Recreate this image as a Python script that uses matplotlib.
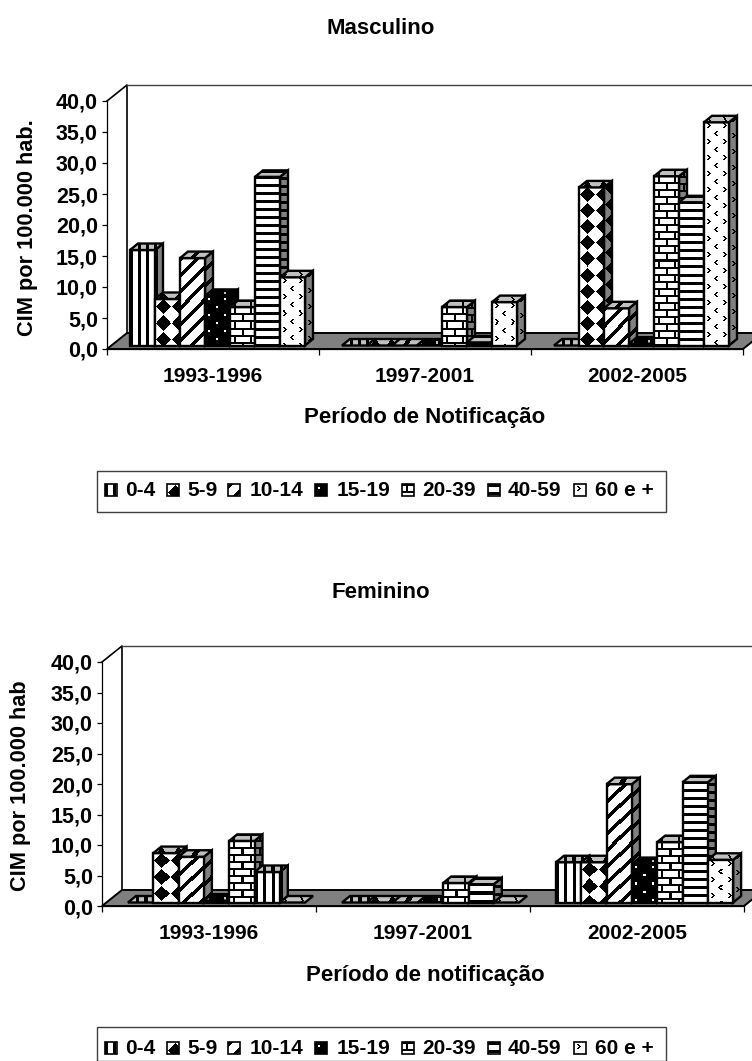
import numpy as np
import matplotlib
matplotlib.use('Agg')
import matplotlib.pyplot as plt
from matplotlib.patches import Polygon, Rectangle

plt.rcParams['font.family'] = ['Liberation Sans', 'DejaVu Sans']
plt.rcParams['font.weight'] = 'bold'

W, H = 752, 1061

# ── Data ───────────────────────────────────────────────────────────────────────
periods  = ['1993-1996', '1997-2001', '2002-2005']
ages     = ['0-4', '5-9', '10-14', '15-19', '20-39', '40-59', '60 e +']
y_ticks  = [0, 5, 10, 15, 20, 25, 30, 35, 40]
y_labels = ['0,0', '5,0', '10,0', '15,0', '20,0', '25,0', '30,0', '35,0', '40,0']

# one row per period, one column per age group
masc = [[15.4, 7.5, 14.1, 8.0, 6.2, 27.2, 11.0],
        [0.0, 0.0, 0.0, 0.0, 6.2, 0.5, 7.0],
        [0.0, 25.5, 6.0, 0.3, 27.3, 23.1, 36.0]]
fem  = [[0.0, 8.1, 7.5, 0.3, 10.1, 5.0, 0.0],
        [0.0, 0.0, 0.0, 0.0, 3.2, 3.0, 0.0],
        [6.6, 6.6, 19.4, 6.3, 9.9, 19.7, 7.0]]


# ── Fill patterns (1 = white, 0 = black) ───────────────────────────────────────
def make_tile(name):
    yy, xx = np.mgrid[0:16, 0:16]
    if name == 'vert':
        return (xx % 8 >= 3).astype(float)
    if name == 'horiz':
        return (yy % 8 >= 3).astype(float)
    if name == 'diag':
        return ((xx + yy) % 16 >= 5).astype(float)
    if name == 'diamond':
        return (np.abs(xx - 8) + np.abs(yy - 8) > 7).astype(float)
    if name == 'dots':
        t = np.zeros((16, 16))
        t[3:5, 3:5] = 1
        t[11:13, 11:13] = 1
        return t
    if name == 'brick':
        t = np.ones((14, 16))
        t[0:2, :] = 0
        t[7:9, :] = 0
        t[0:7, 4:6] = 0
        t[7:14, 12:14] = 0
        return t
    if name == 'confetti':
        t = np.ones((16, 16))
        for k in range(3):
            t[2 + k, 3 + k:5 + k] = 0
            t[6 - k, 3 + k:5 + k] = 0
            t[10 + k, 12 - k:14 - k] = 0
            t[14 - k, 12 - k:14 - k] = 0
        return t


patterns = ['vert', 'diamond', 'diag', 'dots', 'brick', 'horiz', 'confetti']


def tile_image(name, w, h, white=1.0):
    t = make_tile(name)
    w, h = max(int(round(w)), 1), max(int(round(h)), 1)
    img = np.tile(t, (h // t.shape[0] + 1, w // t.shape[1] + 1))[:h, :w]
    return img * white


# ── Drawing helpers ────────────────────────────────────────────────────────────
def draw_face(ax, pts, name, white, sx, sy):
    pts = np.array(pts)
    x0, x1 = pts[:, 0].min(), pts[:, 0].max()
    y0, y1 = pts[:, 1].min(), pts[:, 1].max()
    if y1 > y0:
        img = tile_image(name, (x1 - x0) / sx, (y1 - y0) / sy, white)
        im = ax.imshow(img, cmap='gray', vmin=0, vmax=1, extent=(x0, x1, y0, y1),
                       aspect='auto', interpolation='nearest', zorder=3)
        poly = Polygon(pts, closed=True, transform=ax.transData)
        im.set_clip_path(poly)
    ax.add_patch(Polygon(pts, closed=True, fill=False, edgecolor='black', lw=1.7,
                         clip_on=False, zorder=3, joinstyle='miter'))


def draw_panel(box, values, pad, bw, title, xlabel, ylabel, title_y, xlabel_y, ylabel_x,
               ylabel_y, overrides):
    left, right, y40, y0 = box
    ax = fig.add_axes([left / W, 1 - y0 / H, (right - left) / W, (y0 - y40) / H])
    ax.set_xlim(0, 3)
    ax.set_ylim(0, 40)
    sx = 3 / (right - left)     # data units per pixel
    sy = 40 / (y0 - y40)
    ddx, ddy = 20 * sx, 16 * sy  # wall depth
    bdx, bdy = 8 * sx, 6.5 * sy  # bar depth
    base = 3.5 * sy

    # floor and back wall
    ax.add_patch(Polygon([(0, 0), (ddx, ddy), (3 + ddx, ddy), (3, 0)], closed=True,
                         facecolor='#808080', edgecolor='black', lw=1.4, clip_on=False, zorder=1))
    ax.plot([0, ddx, ddx], [40, 40 + ddy, ddy], color='black', lw=1.2, clip_on=False, zorder=1)
    ax.plot([ddx, 3 + ddx], [40 + ddy, 40 + ddy], color='#404040', lw=1.0, clip_on=False, zorder=1)

    # bars, left to right so that each one covers the side of the previous one
    for i, row in enumerate(values):
        for j, v in enumerate(row):
            name = overrides.get((i, j), patterns[j])
            x0 = i + (pad + j * bw) * sx
            x1 = x0 + bw * sx
            top = base + v
            if v > 0:
                draw_face(ax, [(x1, base), (x1 + bdx, base + bdy), (x1 + bdx, top + bdy), (x1, top)],
                          name, 0.5, sx, sy)
                draw_face(ax, [(x0, base), (x1, base), (x1, top), (x0, top)], name, 1.0, sx, sy)
            draw_face(ax, [(x0, top), (x1, top), (x1 + bdx, top + bdy), (x0 + bdx, top + bdy)],
                      name, 0.75, sx, sy)

    ax.set_xlim(0, 3)
    ax.set_ylim(0, 40)
    ax.patch.set_visible(False)
    for s in ['top', 'right']:
        ax.spines[s].set_visible(False)
    for s in ['left', 'bottom']:
        ax.spines[s].set_linewidth(0.9)
    ax.set_yticks(y_ticks)
    ax.set_yticklabels(y_labels, fontsize=15.5)
    ax.tick_params(axis='y', length=3.6, width=0.9, pad=3)
    ax.set_xticks([0, 1, 2, 3])
    ax.set_xticklabels([])
    ax.tick_params(axis='x', length=4.3, width=0.9)
    ax.set_xticks([0.5, 1.5, 2.5], minor=True)
    ax.set_xticklabels(periods, minor=True, fontsize=15)
    ax.tick_params(axis='x', which='minor', length=0, pad=13)

    fig.text(425 / W, 1 - xlabel_y / H, xlabel, ha='center', va='center', fontsize=16)
    fig.text(381 / W, 1 - title_y / H, title, ha='center', va='center', fontsize=16)
    fig.text(ylabel_x / W, 1 - ylabel_y / H, ylabel, rotation=90, ha='center', va='center', fontsize=15.7)


def draw_legend(top, bottom, text_y):
    ax = fig.add_axes([0, 0, 1, 1], zorder=5)
    ax.set_xlim(0, W)
    ax.set_ylim(H, 0)
    ax.axis('off')
    ax.add_patch(Rectangle((97, top), 569, bottom - top, fill=False, edgecolor='#404040', lw=1.0))
    swatch_x = [105, 167, 228, 315, 402, 488, 574]
    label_x  = [125, 187, 250, 337, 422, 508, 595]
    for sx0, lx, age, name in zip(swatch_x, label_x, ages, patterns):
        img = tile_image(name, 12, 12)
        ax.imshow(img, cmap='gray', vmin=0, vmax=1, aspect='auto', interpolation='nearest',
                  extent=(sx0, sx0 + 12, text_y + 6, text_y - 6))
        ax.add_patch(Rectangle((sx0, text_y - 6), 12, 12, fill=False, edgecolor='black', lw=1.2))
        ax.text(lx, text_y + 1, age, ha='left', va='center', fontsize=15)
    ax.set_xlim(0, W)
    ax.set_ylim(H, 0)


# ── Figure ─────────────────────────────────────────────────────────────────────
fig = plt.figure(figsize=(W / 100, H / 100), dpi=100, facecolor='white')

draw_panel((107, 743, 101, 349), masc, 23, 25, 'Masculino', 'Período de Notificação',
           'CIM por 100.000 hab.', 29, 418, 27, 228, {})
draw_legend(471, 512, 490)

draw_panel((102, 744, 662, 906), fem, 26, 25.3, 'Feminino', 'Período de notificação',
           'CIM por 100.000 hab', 592, 976, 21, 786, {(0, 5): 'vert'})
draw_legend(1027, 1061, 1048)

fig.savefig('out.png', dpi=100)
